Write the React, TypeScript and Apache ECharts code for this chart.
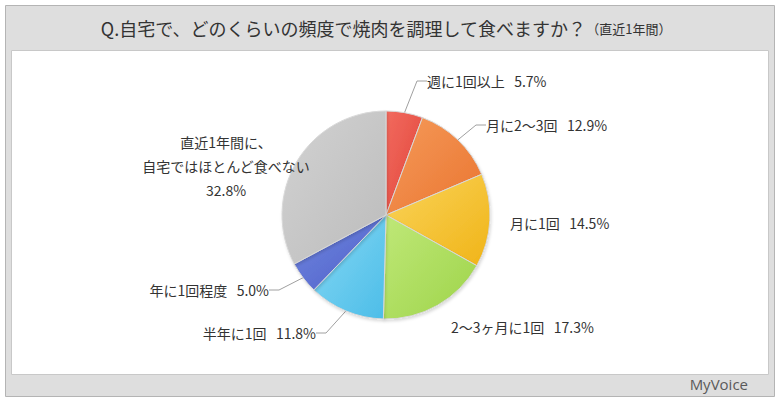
import React, { useEffect, useRef } from "react";
import * as echarts from "echarts";

const categories = [
  "週に1回以上",
  "月に2～3回",
  "月に1回",
  "2～3ヶ月に1回",
  "半年に1回",
  "年に1回程度",
  "直近1年間に、\n自宅ではほとんど食べない",
];
const values = [5.7, 12.9, 14.5, 17.3, 11.8, 5.0, 32.8];
const colors = [
  ["#f26a5e", "#e0443a"],
  ["#f59a5a", "#ea7530"],
  ["#fad45a", "#f0b418"],
  ["#bfe878", "#9ed44a"],
  ["#86d8f4", "#4cbde8"],
  ["#7488e0", "#4a5ec8"],
  ["#d2d2d2", "#bcbcbc"],
];
const title = "Q.自宅で、どのくらいの頻度で焼肉を調理して食べますか？";
const subTitle = "（直近1年間）";

const FONT = "'Noto Sans CJK JP', sans-serif";

export default function App() {
  const ref = useRef<HTMLDivElement>(null);
  useEffect(() => {
    const chart = echarts.init(ref.current!, null, { renderer: "svg" });
    const labelPos: any[] = [
      { x: 427, y: 81, align: "left" },
      { x: 486, y: 125, align: "left" },
      { x: 510, y: 223, align: "left" },
      { x: 451, y: 327, align: "left" },
      { x: 316, y: 333, align: "right" },
      { x: 269, y: 290, align: "right" },
      { x: 226, y: 166, align: "center" },
    ];
    chart.setOption({
      animation: false,
      backgroundColor: "#ffffff",
      graphic: [
        {
          type: "rect",
          shape: { x: 5.5, y: 5.5, width: 769, height: 391 },
          style: { fill: "#dedede", stroke: "#b4b4b4", lineWidth: 1 },
          z: -10,
        },
        {
          type: "rect",
          shape: { x: 11.5, y: 50.5, width: 757, height: 324 },
          style: { fill: "#ffffff", stroke: "#c8c8c8", lineWidth: 1 },
          z: -9,
        },
        {
          type: "text",
          x: 386,
          y: 28,
          style: {
            text: "{a|" + title + "}{b|" + subTitle + "}",
            align: "center",
            verticalAlign: "middle",
            rich: {
              a: { fontSize: 18, fill: "#333333", fontFamily: FONT },
              b: { fontSize: 13, fill: "#333333", fontFamily: FONT },
            },
          },
        },
        {
          type: "text",
          x: 748,
          y: 384,
          style: {
            text: "MyVoice",
            align: "right",
            verticalAlign: "middle",
            fontSize: 15,
            fill: "#5a5a5a",
            fontFamily: "'Open Sans', sans-serif",
            letterSpacing: -1,
          },
        },
      ],
      series: [
        {
          type: "pie",
          center: [386, 215],
          radius: 104,
          startAngle: 90,
          clockwise: true,
          itemStyle: {
            borderColor: "#d8d8d8",
            borderWidth: 1,
            shadowColor: "rgba(0,0,0,0.15)",
            shadowBlur: 3,
            shadowOffsetX: 1,
            shadowOffsetY: 2,
          },
          label: {
            show: true,
            fontFamily: FONT,
            fontSize: 14,
            color: "#333333",
            lineHeight: 24,
            formatter: (p: any) => {
              const idx = p.dataIndex;
              if (idx === 6) return p.name + "\n" + p.value.toFixed(1) + "%";
              return p.name + "   " + p.value.toFixed(1) + "%";
            },
          },
          labelLine: {
            show: true,
            lineStyle: { color: "#a0a0a0", width: 1 },
            length: 10,
            length2: 10,
          },
          labelLayout: (params: any) => {
            const p = labelPos[params.dataIndex];
            return { x: p.x, y: p.y, align: p.align, verticalAlign: "middle" };
          },
          data: values.map((v, i) => ({
            name: categories[i],
            value: v,
            itemStyle: {
              color: new echarts.graphic.LinearGradient(0, 0, 1, 1, [
                { offset: 0, color: colors[i][0] },
                { offset: 1, color: colors[i][1] },
              ]),
            },
            labelLine: { show: i !== 2 && i !== 3 && i !== 6 },
          })),
        },
      ],
    });
    return () => chart.dispose();
  }, []);
  return (
    <div
      ref={ref}
      style={{ position: "fixed", left: 0, top: 0, width: 780, height: 405 }}
    />
  );
}
